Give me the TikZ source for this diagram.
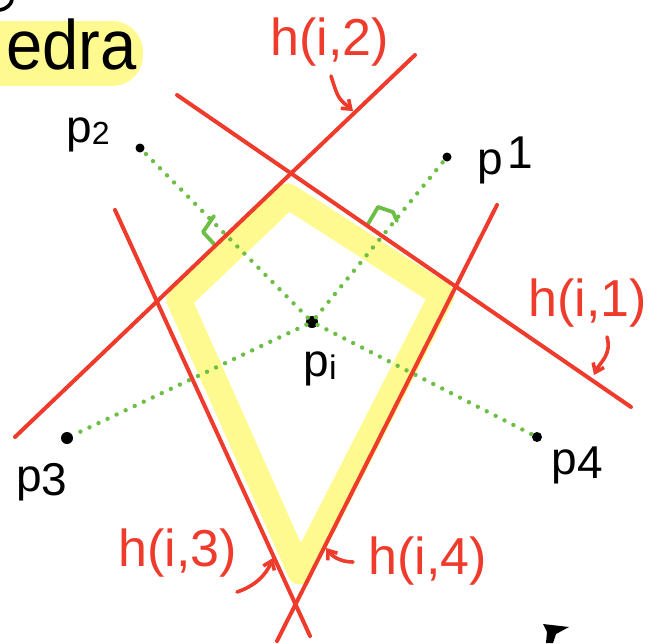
\documentclass[tikz,border=0pt]{standalone}
\usepackage{fontspec}
\setmainfont{Liberation Sans}
\usetikzlibrary{arrows.meta}
\begin{document}
\begin{tikzpicture}[x=1pt,y=-1pt,
  hline/.style={draw=hred,line width=4pt,line cap=round},
  perpline/.style={draw=hgreen,line width=4.4pt,line cap=round,dash pattern=on 0pt off 10pt},
  rightmark/.style={draw=hgreen,line width=3.8pt,line cap=round,line join=round},
  dotpt/.style={circle,fill=black,inner sep=0pt,minimum size=11pt},
  plabel/.style={font=\fontsize{46}{46}\selectfont,text=black,inner sep=0pt},
  hlabel/.style={font=\fontsize{52}{52}\selectfont,text=hred,inner sep=0pt},
  harrow/.style={draw=hred,line width=3.6pt,line cap=round,-{Straight Barb[length=8pt,width=12pt]}},
]
\definecolor{hred}{HTML}{EE3B2B}
\definecolor{hgreen}{HTML}{6DBE45}
\definecolor{hyel}{HTML}{FFFA8F}
\useasboundingbox (0,0) rectangle (661,643);
\begin{scope}
\clip (0,0) rectangle (661,643);
% title highlight
\fill[hyel,rounded corners=31pt] (-40,21) rectangle (143,86);
\node[font=\fontsize{70}{70}\selectfont,inner sep=0pt,anchor=base west,xscale=0.93] (title) at (6,69) {edra};
\draw[line width=3.6pt,line cap=round] (0,10) .. controls (6,9) and (11,5) .. (12,0);
% yellow highlighted polygon
\draw[hyel,line width=25pt,line join=round,line cap=round]
  (288,196) -- (442,295) -- (300,572) -- (179,300) -- cycle;
\end{scope}
% points
\node[dotpt,minimum size=12pt] (pi) at (312,322) {};
\node[dotpt,minimum size=9pt] (p1) at (447,157) {};
\node[dotpt,minimum size=9pt] (p2) at (140,148) {};
\node[dotpt,minimum size=12pt] (p3) at (67,438) {};
\node[dotpt,minimum size=10pt] (p4) at (537,437) {};
% dotted perpendicular lines
\draw[perpline] (pi) -- (p1);
\draw[perpline] (pi) -- (p2);
\draw[perpline] (pi) -- (p3);
\draw[perpline] (pi) -- (p4);
% right angle marks
\draw[rightmark] (214,216) -- (203,232) -- (214,244);
\draw[rightmark] (368,224) -- (378,207) -- (393,212) -- (397,221);
% half-plane boundary lines
\coordinate (h1a) at (177,95);  \coordinate (h1b) at (631,407);
\coordinate (h2a) at (15,437);  \coordinate (h2b) at (415,55);
\coordinate (h3a) at (115,210); \coordinate (h3b) at (310,636);
\coordinate (h4a) at (497,205); \coordinate (h4b) at (277,641);
\draw[hline] (h1a) -- (h1b);
\draw[hline] (h2a) -- (h2b);
\draw[hline] (h3a) -- (h3b);
\draw[hline] (h4a) -- (h4b);
% point labels
\node[plabel] (lp2) at (88,135) {p\raisebox{-2pt}{\fontsize{32}{32}\selectfont 2}};
\node[plabel] (lp1) at (505,160) {p\hspace{4pt}\raisebox{6pt}{1}};
\node[plabel] (lp3) at (42,482) {p\raisebox{-4pt}{3}};
\node[plabel] (lp4) at (577,465) {p\raisebox{-4pt}{4}};
\node[plabel] (lpi) at (320,369) {p\raisebox{-3pt}{\fontsize{34}{34}\selectfont i}};
% line labels
\node[hlabel] (lh2) at (330,42) {h(i,2)};
\node[hlabel] (lh1) at (588,303) {h(i,1)};
\node[hlabel] (lh3) at (178,553) {h(i,3)};
\node[hlabel] (lh4) at (428,561) {h(i,4)};
% label arrows
\coordinate (a2s) at (331,76);  \coordinate (a2t) at (353,111);
\coordinate (a1s) at (607,337); \coordinate (a1t) at (594,375);
\coordinate (a3s) at (237,592); \coordinate (a3t) at (273,558);
\coordinate (a4s) at (353,562); \coordinate (a4t) at (326,548);
\draw[harrow] (a2s) .. controls (338,98) .. (a2t);
\draw[harrow] (a1s) .. controls (612,355) and (600,362) .. (a1t);
\draw[harrow] (a3s) .. controls (255,586) and (266,575) .. (a3t);
\draw[harrow] (a4s) .. controls (340,562) and (332,556) .. (a4t);
% stray mark bottom right
\fill (543,624) -- (569,627) -- (556,634) -- (553,643) -- (546,643) -- (547,632) -- cycle;
\end{tikzpicture}
\end{document}
